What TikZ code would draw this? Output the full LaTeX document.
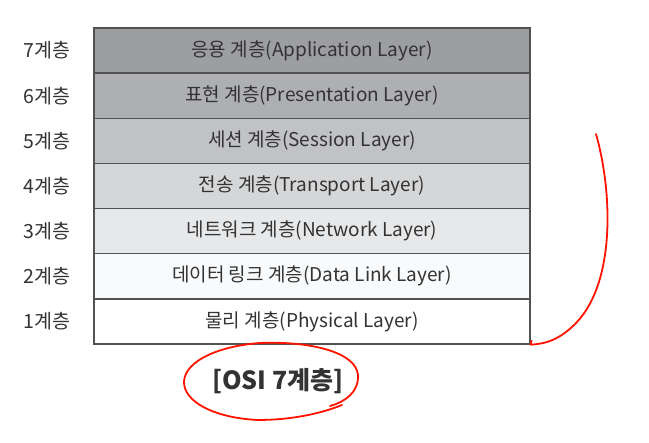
\documentclass[tikz,border=0pt]{standalone}
\usepackage{fontspec}
\setmainfont{Noto Sans CJK KR}
\begin{document}
\begin{tikzpicture}[x=1pt,y=-1pt,
  layer/.style={draw=black!68, line width=1.3pt, minimum width=436pt, minimum height=45.14pt, inner sep=0pt, text=black!80, font=\fontsize{19}{19}\selectfont},
  lab/.style={text=black!80, font=\fontsize{19.5}{19.5}\selectfont, inner sep=0pt},
  pen/.style={draw=red!85!orange, line width=1.8pt, line cap=round, line join=round}]
\useasboundingbox (0,0) rectangle (649,443);
\definecolor{c7}{HTML}{9D9EA2}
\definecolor{c6}{HTML}{AEAFB3}
\definecolor{c5}{HTML}{C1C2C6}
\definecolor{c4}{HTML}{D5D6D8}
\definecolor{c3}{HTML}{E7E8EA}
\definecolor{c2}{HTML}{F8FAFC}
\definecolor{c1}{HTML}{FFFFFF}
\node[layer, fill=c7] (r7) at (312,50.57) {응용 계층(Application Layer)};
\node[layer, fill=c6] (r6) at (312,95.71) {표현 계층(Presentation Layer)};
\node[layer, fill=c5] (r5) at (312,140.86) {세션 계층(Session Layer)};
\node[layer, fill=c4] (r4) at (312,186.00) {전송 계층(Transport Layer)};
\node[layer, fill=c3] (r3) at (312,231.14) {네트워크 계층(Network Layer)};
\node[layer, fill=c2] (r2) at (312,276.29) {데이터 링크 계층(Data Link Layer)};
\node[layer, fill=c1] (r1) at (312,321.43) {물리 계층(Physical Layer)};
\node[lab] (l7) at (47,50.57) {7계층};
\node[lab] (l6) at (47,95.71) {6계층};
\node[lab] (l5) at (47,140.86) {5계층};
\node[lab] (l4) at (47,186.00) {4계층};
\node[lab] (l3) at (47,231.14) {3계층};
\node[lab] (l2) at (47,276.29) {2계층};
\node[lab] (l1) at (47,321.43) {1계층};
\node[text=black!80, font=\fontsize{25}{25}\selectfont\bfseries, inner sep=0pt] (title) at (278,381) {[OSI 7계층]};
\coordinate (penstart) at (596,134);
\draw[pen] (penstart) .. controls (612,190) and (616,280) .. (577,322)
  .. controls (560,340) and (545,344) .. (r1.south east) -- ++(1,-4);
\draw[pen] (342,405) .. controls (320,414) and (290,420) .. (258,420)
  .. controls (215,418) and (183,402) .. (184,381)
  .. controls (186,360) and (220,346) .. (260,343)
  .. controls (310,341) and (356,352) .. (358,375)
  .. controls (359,392) and (345,402) .. (330,406);
\end{tikzpicture}
\end{document}
